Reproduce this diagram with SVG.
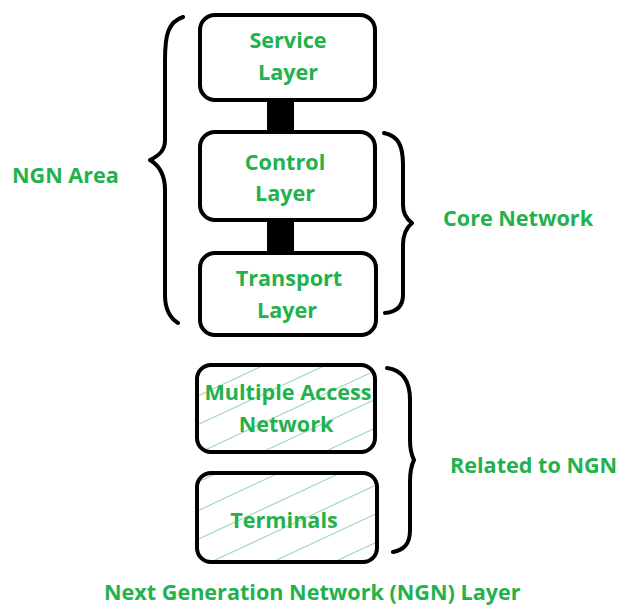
<svg xmlns="http://www.w3.org/2000/svg" width="619" height="606" viewBox="0 0 619 606">
<style>
.box{fill:#fff;stroke:#000;stroke-width:4}
.hbox{fill:url(#hatch);stroke:#000;stroke-width:4}
.brace{fill:none;stroke:#000;stroke-width:4;stroke-linecap:round;stroke-linejoin:round}
.t{font-family:"Open Sans",Lato,sans-serif;font-weight:bold;font-size:21.6px;fill:#22b14c;text-anchor:middle}
.l{font-family:"Open Sans",Lato,sans-serif;font-weight:bold;font-size:21.6px;fill:#22b14c}
</style>
<defs>
<pattern id="hatch" patternUnits="userSpaceOnUse" width="26" height="26" patternTransform="rotate(-25)">
<rect width="26" height="26" fill="#fff"/>
<line x1="0" y1="0" x2="26" y2="0" stroke="#22b14c" stroke-width="1"/>
</pattern>
</defs>
<rect width="619" height="606" fill="#fff"/>
<g id="connectors">
<rect x="267" y="98" width="27" height="36" fill="#000"/>
<rect x="267" y="218" width="27" height="36" fill="#000"/>
</g>
<g id="service"><rect class="box" x="200" y="15" width="175" height="85" rx="15"/><text class="t" x="288" y="48">Service</text><text class="t" x="288" y="80">Layer</text></g>
<g id="control"><rect class="box" x="200" y="132" width="175" height="88" rx="15"/><text class="t" x="285" y="170">Control</text><text class="t" x="285" y="201">Layer</text></g>
<g id="transport"><rect class="box" x="200" y="253" width="176" height="82" rx="15"/><text class="t" x="289" y="286">Transport</text><text class="t" x="287" y="318">Layer</text></g>
<g id="access"><rect class="hbox" x="197" y="365" width="178" height="87" rx="14"/><text class="t" x="288" y="400">Multiple Access</text><text class="t" x="286" y="432">Network</text></g>
<g id="terminals"><rect class="hbox" x="197" y="473" width="180" height="89" rx="14"/><text class="t" x="284" y="528">Terminals</text></g>
<g id="braces">
<path class="brace" d="M183,17 C168,22 165,35 165,60 L165,140 C165,150 160,155 150,160 C160,166 165,175 165,190 L165,295 C165,310 170,318 178,323"/>
<path class="brace" d="M384,133 C398,136 403,145 403,165 L403,205 C403,215 408,220 412,223 C406,228 403,235 403,245 L403,295 C403,307 396,312 385,313"/>
<path class="brace" d="M387,368 C402,370 410,380 410,400 L410,440 C410,450 412,456 414,460 C411,466 410,472 410,482 L410,530 C410,545 403,550 393,552"/>
</g>
<g id="labels">
<text class="l" x="12" y="183">NGN Area</text>
<text class="l" x="443" y="226">Core Network</text>
<text class="l" x="450" y="473">Related to NGN</text>
<text class="l" x="104" y="600">Next Generation Network (NGN) Layer</text>
</g>
</svg>
